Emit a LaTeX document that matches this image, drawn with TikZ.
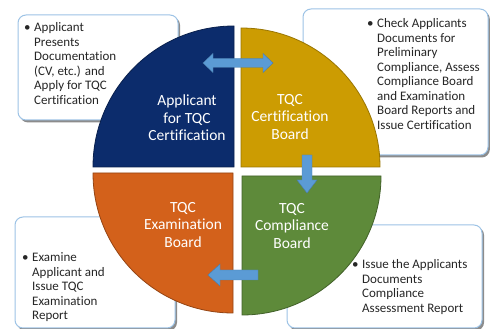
\documentclass[tikz,border=0pt]{standalone}
\usepackage{fontspec}
\setmainfont[Ligatures=NoCommon]{Carlito}
\definecolor{qblue}{HTML}{0C2C6C}
\definecolor{qgold}{HTML}{CC9C02}
\definecolor{qgreen}{HTML}{5E8A3A}
\definecolor{qorange}{HTML}{D3611B}
\definecolor{arrowblue}{HTML}{5B9BD5}
\definecolor{boxline}{HTML}{9DC3E6}
\begin{document}
\begin{tikzpicture}[x=1pt,y=1pt,
  quad/.style={line width=0.8pt},
  qlabel/.style={text=white, align=center, font=\fontsize{15.5}{17.5}\selectfont, inner sep=0pt},
  shadowbox/.style={fill=black!45, rounded corners=8pt},
  infobox/.style={fill=white, draw=boxline, line width=1pt, rounded corners=8pt},
  infotext/.style={align=left, anchor=base west, inner sep=0pt, font=\fontsize{13}{14.5}\selectfont, text=black!85},
  blockarrow/.style={fill=arrowblue, draw=arrowblue!80!black, line width=0.4pt, line join=miter}]
\useasboundingbox (0,0) rectangle (490,329);
% info boxes (behind the pie)
\fill[shadowbox] (20,206.5) rectangle (180,312);
\draw[infobox] (18,209) rectangle (178,314);
\fill[shadowbox] (305,171.5) rectangle (489.8,318);
\draw[infobox] (303,174) rectangle (488,320);
\fill[shadowbox] (17,-1.5) rectangle (177,110);
\draw[infobox] (15,1) rectangle (175,112);
\fill[shadowbox] (289,-1.5) rectangle (484,102);
\draw[infobox] (287,1) rectangle (482,104);
\node[infotext] (t1) at (34,224.5) {\llap{\textbullet\hspace{3.5pt}}Applicant\\Presents\\Documentation\\(CV, etc.) and\\Apply for TQC\\Certification};
\node[infotext] (t2) at (377,199.5) {\llap{\textbullet\hspace{3.5pt}}Check Applicants\\Documents for\\Preliminary\\Compliance, Assess\\Compliance Board\\and Examination\\Board Reports and\\Issue Certification};
\node[infotext] (t3) at (32,9) {\llap{\textbullet\hspace{3.5pt}}Examine\\Applicant and\\Issue TQC\\Examination\\Report};
\node[infotext] (t4) at (362,16.5) {\llap{\textbullet\hspace{3.5pt}}Issue the Applicants\\Documents\\Compliance\\Assessment Report};
% quadrants
\filldraw[quad, fill=qblue, draw=qblue!70!black] (234,162) -- (93,162) arc (180:90:141) -- cycle;
\filldraw[quad, fill=qgold, draw=qgold!75!black] (241,162) -- (241,301) arc (90:0:139) -- cycle;
\filldraw[quad, fill=qgreen, draw=qgreen!70!black] (242,153) -- (381,153) arc (0:-90:139) -- cycle;
\filldraw[quad, fill=qorange, draw=qorange!70!black] (233,156) -- (233,16) arc (-90:-180:140) -- cycle;
% labels
\node[qlabel] (q1) at (187,211) {Applicant\\for TQC\\Certification};
\node[qlabel] (q2) at (290,212) {TQC\\Certification\\Board};
\node[qlabel] (q3) at (292,103) {TQC\\Compliance\\Board};
\node[qlabel] (q4) at (183,104) {TQC\\Examination\\Board};
% arrows
\filldraw[blockarrow] (203,266) -- (213,275.5) -- (213,270.5) -- (263,270.5) -- (263,275.5) -- (273,266) -- (263,256.5) -- (263,261.5) -- (213,261.5) -- (213,256.5) -- cycle;
\filldraw[blockarrow] (302,174) -- (312,174) -- (312,149) -- (317,149) -- (307,136) -- (297,149) -- (302,149) -- cycle;
\filldraw[blockarrow] (258,59) -- (220,59) -- (220,65) -- (208,54) -- (220,43) -- (220,49) -- (258,49) -- cycle;
\end{tikzpicture}
\end{document}
